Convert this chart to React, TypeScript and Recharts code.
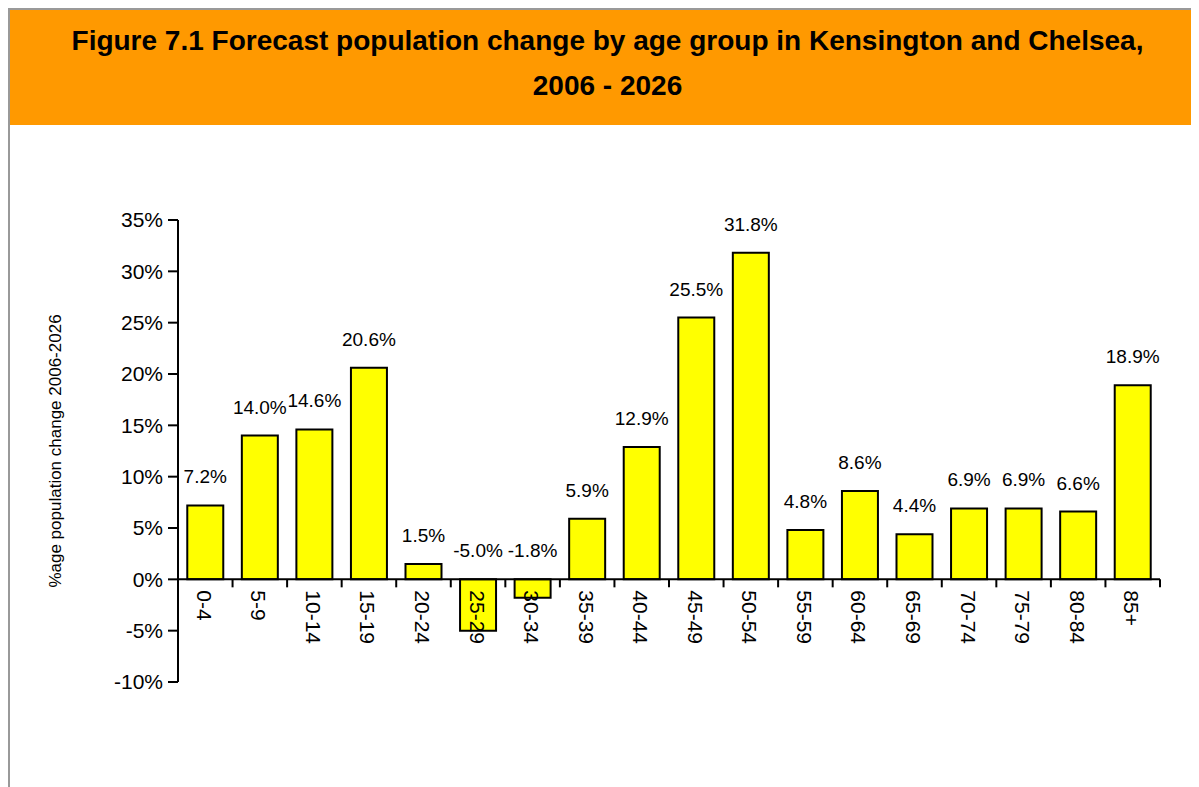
import { BarChart, Bar, XAxis, YAxis, ReferenceLine, LabelList } from "recharts";

// age groups on the x axis
const ageGroups = [
  "0-4", "5-9", "10-14", "15-19", "20-24", "25-29", "30-34", "35-39", "40-44",
  "45-49", "50-54", "55-59", "60-64", "65-69", "70-74", "75-79", "80-84", "85+",
];

// % change 2006 - 2026
const changePct = [
  7.2, 14.0, 14.6, 20.6, 1.5, -5.0, -1.8, 5.9, 12.9,
  25.5, 31.8, 4.8, 8.6, 4.4, 6.9, 6.9, 6.6, 18.9,
];

const yTicks = [-10, -5, 0, 5, 10, 15, 20, 25, 30, 35];

const data = ageGroups.map((group, i) => ({ group, change: changePct[i] }));

const CHART_W = 1189;
const CHART_H = 662;
const X_AXIS_H = 30;
const MARGIN = { top: 95, right: 39, bottom: 105 - X_AXIS_H, left: 60 };
const Y_AXIS_W = 108;
const Y_MIN = yTicks[0];
const Y_MAX = yTicks[yTicks.length - 1];
const PLOT_W = CHART_W - MARGIN.left - Y_AXIS_W - MARGIN.right;
const PLOT_H = CHART_H - MARGIN.top - MARGIN.bottom - X_AXIS_H;
// distance from the bottom of the plot up to the zero line
const ZERO_SHIFT = (PLOT_H * (0 - Y_MIN)) / (Y_MAX - Y_MIN);
const BAND = PLOT_W / ageGroups.length;

const FONT = "'Liberation Sans', Arial, sans-serif";

// x labels sit on the zero line, rotated, with tick marks between groups
function AgeTick(props: any) {
  const { x, y, payload } = props;
  const zy = y - ZERO_SHIFT;
  const tx = x - 1;
  const ty = zy + 11;
  return (
    <g>
      <line x1={x + BAND / 2} x2={x + BAND / 2} y1={zy} y2={zy + 8} stroke="#000" strokeWidth={2} />
      <text
        x={tx}
        y={ty}
        transform={`rotate(90, ${tx}, ${ty})`}
        textAnchor="start"
        dominantBaseline="central"
        fontSize={21}
        fontFamily={FONT}
        fill="#000"
      >
        {payload.value}
      </text>
    </g>
  );
}

function ValueLabel(props: any) {
  const { x, y, width, height, value } = props;
  const top = Math.min(y, y + height);
  return (
    <text
      x={x + width / 2}
      y={top - 22}
      textAnchor="middle"
      fontSize={19}
      fontFamily={FONT}
      fill="#000"
    >
      {value.toFixed(1)}%
    </text>
  );
}

export default function App() {
  return (
    <div
      style={{
        width: 1191,
        height: 779,
        borderLeft: "2px solid #999",
        borderTop: "2px solid #999",
        boxSizing: "border-box",
        fontFamily: FONT,
        background: "#fff",
      }}
    >
      <style>{"html, body { overflow: hidden; }"}</style>
      <div
        style={{
          height: 115,
          background: "#FF9900",
          boxSizing: "border-box",
          paddingTop: 8,
          paddingLeft: 6,
          textAlign: "center",
          fontSize: 28,
          fontWeight: "bold",
          lineHeight: "45px",
          color: "#000",
        }}
      >
        Figure 7.1 Forecast population change by age group in Kensington and Chelsea,
        <br />
        2006 - 2026
      </div>
      <BarChart
        width={CHART_W}
        height={CHART_H}
        data={data}
        margin={MARGIN}
        barCategoryGap="17%"
      >
        <XAxis
          dataKey="group"
          height={X_AXIS_H}
          axisLine={false}
          tickLine={false}
          tickSize={0}
          tickMargin={0}
          interval={0}
          tick={(p: any) => <AgeTick {...p} />}
        />
        <YAxis
          width={Y_AXIS_W}
          domain={[Y_MIN, Y_MAX]}
          ticks={yTicks}
          interval={0}
          tickFormatter={(v: number) => `${v}%`}
          axisLine={{ stroke: "#000", strokeWidth: 2 }}
          tickLine={{ stroke: "#000", strokeWidth: 2 }}
          tickSize={10}
          tickMargin={5}
          tick={{ fill: "#000", fontSize: 21, fontFamily: FONT }}
          label={{
            content: (p: any) => {
              const vb = p.viewBox;
              const cx = vb.x - 15;
              const cy = vb.y + vb.height / 2;
              return (
                <text
                  x={cx}
                  y={cy}
                  transform={`rotate(-90, ${cx}, ${cy})`}
                  textAnchor="middle"
                  dominantBaseline="central"
                  fontSize={17}
                  fontFamily={FONT}
                  fill="#000"
                >
                  %age population change 2006-2026
                </text>
              );
            },
          }}
        />
        <Bar
          dataKey="change"
          fill="#FFFF00"
          stroke="#000"
          strokeWidth={2}
          isAnimationActive={false}
        >
          <LabelList dataKey="change" content={(p: any) => <ValueLabel {...p} />} />
        </Bar>
        <ReferenceLine y={0} stroke="#000" strokeWidth={2} />
      </BarChart>
    </div>
  );
}
